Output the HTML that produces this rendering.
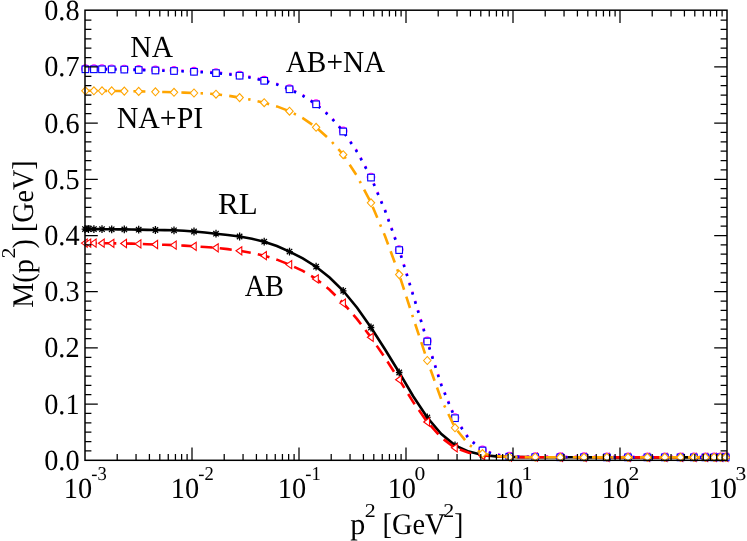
<!DOCTYPE html>
<html><head><meta charset="utf-8"><title>M(p2)</title>
<style>html,body{margin:0;padding:0;background:#fff;width:747px;height:541px;overflow:hidden;font-family:"Liberation Serif",serif}</style>
</head><body>
<svg width="747" height="541" viewBox="0 0 747 541" style="position:absolute;left:0;top:0">
<rect width="747" height="541" fill="#fff"/>
<path d="M85.0,229.10 L86.8,229.10 L88.5,229.11 L91.2,229.12 L93.9,229.13 L98.0,229.15 L102.0,229.18 L106.8,229.22 L111.7,229.27 L118.0,229.33 L124.3,229.40 L131.5,229.51 L138.7,229.65 L147.1,229.84 L155.4,230.00 L164.7,230.13 L174.0,230.30 L184.0,230.78 L194.0,231.50 L205.0,232.51 L216.0,233.70 L227.8,234.97 L239.6,236.50 L251.9,238.72 L264.2,241.70 L276.9,246.05 L289.5,251.60 L302.8,258.40 L316.1,266.73 L329.6,277.51 L343.2,290.79 L357.1,307.77 L371.0,327.46 L385.1,349.45 L399.2,372.54 L413.2,396.27 L427.3,417.53 L441.1,433.87 L455.0,445.35 L468.8,451.60 L482.5,455.09 L495.9,456.40 L509.3,457.00 L522.2,457.13 L535.2,457.22 L547.8,457.27 L560.3,457.30 L572.1,457.31 L584.0,457.33 L595.5,457.34 L606.9,457.35 L617.5,457.36 L628.0,457.37 L637.7,457.37 L647.4,457.38 L656.1,457.38 L664.8,457.39 L672.6,457.39 L680.5,457.39 L687.2,457.39 L693.9,457.40 L699.6,457.40 L705.4,457.40 L709.8,457.40 L714.1,457.40 L717.3,457.40 L720.5,457.40 L723.1,457.40 L725.7,457.40" fill="none" stroke="#000" stroke-width="2.6" stroke-linejoin="miter"/>
<path d="M81.7,229.1 H88.3 M85.0,225.2 V233.0 M82.3,226.4 L87.7,231.8 M82.3,231.8 L87.7,226.4" fill="none" stroke="#000" stroke-width="1.3"/>
<path d="M85.2,229.1 H91.8 M88.5,225.2 V233.0 M85.8,226.4 L91.2,231.8 M85.8,231.8 L91.2,226.4" fill="none" stroke="#000" stroke-width="1.3"/>
<path d="M90.6,229.1 H97.2 M93.9,225.2 V233.0 M91.2,226.4 L96.6,231.8 M91.2,231.8 L96.6,226.4" fill="none" stroke="#000" stroke-width="1.3"/>
<path d="M98.7,229.2 H105.3 M102.0,225.3 V233.1 M99.3,226.5 L104.7,231.9 M99.3,231.9 L104.7,226.5" fill="none" stroke="#000" stroke-width="1.3"/>
<path d="M108.4,229.3 H115.0 M111.7,225.4 V233.2 M109.0,226.6 L114.4,232.0 M109.0,232.0 L114.4,226.6" fill="none" stroke="#000" stroke-width="1.3"/>
<path d="M121.0,229.4 H127.6 M124.3,225.5 V233.3 M121.6,226.7 L127.0,232.1 M121.6,232.1 L127.0,226.7" fill="none" stroke="#000" stroke-width="1.3"/>
<path d="M135.4,229.7 H142.0 M138.7,225.8 V233.6 M136.0,227.0 L141.4,232.4 M136.0,232.4 L141.4,227.0" fill="none" stroke="#000" stroke-width="1.3"/>
<path d="M152.1,230.0 H158.7 M155.4,226.1 V233.9 M152.7,227.3 L158.1,232.7 M152.7,232.7 L158.1,227.3" fill="none" stroke="#000" stroke-width="1.3"/>
<path d="M170.7,230.3 H177.3 M174.0,226.4 V234.2 M171.3,227.6 L176.7,233.0 M171.3,233.0 L176.7,227.6" fill="none" stroke="#000" stroke-width="1.3"/>
<path d="M190.7,231.5 H197.3 M194.0,227.6 V235.4 M191.3,228.8 L196.7,234.2 M191.3,234.2 L196.7,228.8" fill="none" stroke="#000" stroke-width="1.3"/>
<path d="M212.7,233.7 H219.3 M216.0,229.8 V237.6 M213.3,231.0 L218.7,236.4 M213.3,236.4 L218.7,231.0" fill="none" stroke="#000" stroke-width="1.3"/>
<path d="M236.3,236.5 H242.9 M239.6,232.6 V240.4 M236.9,233.8 L242.3,239.2 M236.9,239.2 L242.3,233.8" fill="none" stroke="#000" stroke-width="1.3"/>
<path d="M260.9,241.7 H267.5 M264.2,237.8 V245.6 M261.5,239.0 L266.9,244.4 M261.5,244.4 L266.9,239.0" fill="none" stroke="#000" stroke-width="1.3"/>
<path d="M286.2,251.6 H292.8 M289.5,247.7 V255.5 M286.8,248.9 L292.2,254.3 M286.8,254.3 L292.2,248.9" fill="none" stroke="#000" stroke-width="1.3"/>
<path d="M312.8,266.7 H319.4 M316.1,262.8 V270.6 M313.4,264.0 L318.8,269.4 M313.4,269.4 L318.8,264.0" fill="none" stroke="#000" stroke-width="1.3"/>
<path d="M339.9,290.8 H346.5 M343.2,286.9 V294.7 M340.5,288.1 L345.9,293.5 M340.5,293.5 L345.9,288.1" fill="none" stroke="#000" stroke-width="1.3"/>
<path d="M367.7,327.5 H374.3 M371.0,323.6 V331.4 M368.3,324.8 L373.7,330.2 M368.3,330.2 L373.7,324.8" fill="none" stroke="#000" stroke-width="1.3"/>
<path d="M395.9,372.5 H402.5 M399.2,368.6 V376.4 M396.5,369.8 L401.9,375.2 M396.5,375.2 L401.9,369.8" fill="none" stroke="#000" stroke-width="1.3"/>
<path d="M424.0,417.5 H430.6 M427.3,413.6 V421.4 M424.6,414.8 L430.0,420.2 M424.6,420.2 L430.0,414.8" fill="none" stroke="#000" stroke-width="1.3"/>
<path d="M451.7,445.3 H458.3 M455.0,441.4 V449.2 M452.3,442.6 L457.7,448.0 M452.3,448.0 L457.7,442.6" fill="none" stroke="#000" stroke-width="1.3"/>
<path d="M479.2,455.1 H485.8 M482.5,451.2 V459.0 M479.8,452.4 L485.2,457.8 M479.8,457.8 L485.2,452.4" fill="none" stroke="#000" stroke-width="1.3"/>
<path d="M506.0,457.0 H512.6 M509.3,453.1 V460.9 M506.6,454.3 L512.0,459.7 M506.6,459.7 L512.0,454.3" fill="none" stroke="#000" stroke-width="1.3"/>
<path d="M531.9,457.2 H538.5 M535.2,453.3 V461.1 M532.5,454.5 L537.9,459.9 M532.5,459.9 L537.9,454.5" fill="none" stroke="#000" stroke-width="1.3"/>
<path d="M557.0,457.3 H563.6 M560.3,453.4 V461.2 M557.6,454.6 L563.0,460.0 M557.6,460.0 L563.0,454.6" fill="none" stroke="#000" stroke-width="1.3"/>
<path d="M580.7,457.3 H587.3 M584.0,453.4 V461.2 M581.3,454.6 L586.7,460.0 M581.3,460.0 L586.7,454.6" fill="none" stroke="#000" stroke-width="1.3"/>
<path d="M603.6,457.3 H610.2 M606.9,453.4 V461.2 M604.2,454.6 L609.6,460.0 M604.2,460.0 L609.6,454.6" fill="none" stroke="#000" stroke-width="1.3"/>
<path d="M624.7,457.4 H631.3 M628.0,453.5 V461.3 M625.3,454.7 L630.7,460.1 M625.3,460.1 L630.7,454.7" fill="none" stroke="#000" stroke-width="1.3"/>
<path d="M644.1,457.4 H650.7 M647.4,453.5 V461.3 M644.7,454.7 L650.1,460.1 M644.7,460.1 L650.1,454.7" fill="none" stroke="#000" stroke-width="1.3"/>
<path d="M661.5,457.4 H668.1 M664.8,453.5 V461.3 M662.1,454.7 L667.5,460.1 M662.1,460.1 L667.5,454.7" fill="none" stroke="#000" stroke-width="1.3"/>
<path d="M677.2,457.4 H683.8 M680.5,453.5 V461.3 M677.8,454.7 L683.2,460.1 M677.8,460.1 L683.2,454.7" fill="none" stroke="#000" stroke-width="1.3"/>
<path d="M690.6,457.4 H697.2 M693.9,453.5 V461.3 M691.2,454.7 L696.6,460.1 M691.2,460.1 L696.6,454.7" fill="none" stroke="#000" stroke-width="1.3"/>
<path d="M702.1,457.4 H708.7 M705.4,453.5 V461.3 M702.7,454.7 L708.1,460.1 M702.7,460.1 L708.1,454.7" fill="none" stroke="#000" stroke-width="1.3"/>
<path d="M710.8,457.4 H717.4 M714.1,453.5 V461.3 M711.4,454.7 L716.8,460.1 M711.4,460.1 L716.8,454.7" fill="none" stroke="#000" stroke-width="1.3"/>
<path d="M717.2,457.4 H723.8 M720.5,453.5 V461.3 M717.8,454.7 L723.2,460.1 M717.8,460.1 L723.2,454.7" fill="none" stroke="#000" stroke-width="1.3"/>
<path d="M722.4,457.4 H729.0 M725.7,453.5 V461.3 M723.0,454.7 L728.4,460.1 M723.0,460.1 L728.4,454.7" fill="none" stroke="#000" stroke-width="1.3"/>
<path d="M85.0,243.10 L86.8,243.10 L88.5,243.10 L91.2,243.11 L93.9,243.13 L98.0,243.16 L102.0,243.20 L106.8,243.25 L111.7,243.31 L118.0,243.41 L124.3,243.50 L131.5,243.67 L138.7,243.90 L147.1,244.21 L155.4,244.50 L164.7,244.78 L174.0,245.10 L184.0,245.65 L194.0,246.30 L205.0,246.98 L216.0,247.80 L227.8,249.10 L239.6,250.80 L251.9,252.97 L264.2,255.75 L276.9,259.64 L289.5,264.60 L302.8,270.93 L316.1,278.90 L329.6,289.77 L343.2,303.10 L357.1,319.12 L371.0,337.34 L385.1,357.97 L399.2,379.65 L413.2,402.07 L427.3,422.00 L441.1,437.46 L455.0,447.84 L468.8,452.78 L482.5,455.47 L495.9,456.51 L509.3,457.00 L522.2,457.13 L535.2,457.22 L547.8,457.27 L560.3,457.30 L572.1,457.31 L584.0,457.33 L595.5,457.34 L606.9,457.35 L617.5,457.36 L628.0,457.37 L637.7,457.37 L647.4,457.38 L656.1,457.38 L664.8,457.39 L672.6,457.39 L680.5,457.39 L687.2,457.39 L693.9,457.40 L699.6,457.40 L705.4,457.40 L709.8,457.40 L714.1,457.40 L717.3,457.40 L720.5,457.40 L723.1,457.40 L725.7,457.40" fill="none" stroke="#f00" stroke-width="2.6" stroke-linejoin="miter" stroke-dasharray="12.05 7.22"/>
<path d="M81.4,243.1 L87.2,239.0 L87.2,247.2 Z" fill="#fff" stroke="#f00" stroke-width="1.1"/>
<path d="M84.9,243.1 L90.7,239.0 L90.7,247.2 Z" fill="#fff" stroke="#f00" stroke-width="1.1"/>
<path d="M90.3,243.1 L96.1,239.0 L96.1,247.2 Z" fill="#fff" stroke="#f00" stroke-width="1.1"/>
<path d="M98.4,243.2 L104.2,239.1 L104.2,247.3 Z" fill="#fff" stroke="#f00" stroke-width="1.1"/>
<path d="M108.1,243.3 L113.9,239.2 L113.9,247.4 Z" fill="#fff" stroke="#f00" stroke-width="1.1"/>
<path d="M120.7,243.5 L126.5,239.4 L126.5,247.6 Z" fill="#fff" stroke="#f00" stroke-width="1.1"/>
<path d="M135.1,243.9 L140.9,239.8 L140.9,248.0 Z" fill="#fff" stroke="#f00" stroke-width="1.1"/>
<path d="M151.8,244.5 L157.6,240.4 L157.6,248.6 Z" fill="#fff" stroke="#f00" stroke-width="1.1"/>
<path d="M170.4,245.1 L176.2,241.0 L176.2,249.2 Z" fill="#fff" stroke="#f00" stroke-width="1.1"/>
<path d="M190.4,246.3 L196.2,242.2 L196.2,250.4 Z" fill="#fff" stroke="#f00" stroke-width="1.1"/>
<path d="M212.4,247.8 L218.2,243.7 L218.2,251.9 Z" fill="#fff" stroke="#f00" stroke-width="1.1"/>
<path d="M236.0,250.8 L241.8,246.7 L241.8,254.9 Z" fill="#fff" stroke="#f00" stroke-width="1.1"/>
<path d="M260.6,255.7 L266.4,251.6 L266.4,259.8 Z" fill="#fff" stroke="#f00" stroke-width="1.1"/>
<path d="M285.9,264.6 L291.7,260.5 L291.7,268.7 Z" fill="#fff" stroke="#f00" stroke-width="1.1"/>
<path d="M312.5,278.9 L318.3,274.8 L318.3,283.0 Z" fill="#fff" stroke="#f00" stroke-width="1.1"/>
<path d="M339.6,303.1 L345.4,299.0 L345.4,307.2 Z" fill="#fff" stroke="#f00" stroke-width="1.1"/>
<path d="M367.4,337.3 L373.2,333.2 L373.2,341.4 Z" fill="#fff" stroke="#f00" stroke-width="1.1"/>
<path d="M395.6,379.7 L401.4,375.6 L401.4,383.8 Z" fill="#fff" stroke="#f00" stroke-width="1.1"/>
<path d="M423.7,422.0 L429.5,417.9 L429.5,426.1 Z" fill="#fff" stroke="#f00" stroke-width="1.1"/>
<path d="M451.4,447.8 L457.2,443.7 L457.2,451.9 Z" fill="#fff" stroke="#f00" stroke-width="1.1"/>
<path d="M478.9,455.5 L484.7,451.4 L484.7,459.6 Z" fill="#fff" stroke="#f00" stroke-width="1.1"/>
<path d="M505.7,457.0 L511.5,452.9 L511.5,461.1 Z" fill="#fff" stroke="#f00" stroke-width="1.1"/>
<path d="M531.6,457.2 L537.4,453.1 L537.4,461.3 Z" fill="#fff" stroke="#f00" stroke-width="1.1"/>
<path d="M556.7,457.3 L562.5,453.2 L562.5,461.4 Z" fill="#fff" stroke="#f00" stroke-width="1.1"/>
<path d="M580.4,457.3 L586.2,453.2 L586.2,461.4 Z" fill="#fff" stroke="#f00" stroke-width="1.1"/>
<path d="M603.3,457.3 L609.1,453.2 L609.1,461.4 Z" fill="#fff" stroke="#f00" stroke-width="1.1"/>
<path d="M624.4,457.4 L630.2,453.3 L630.2,461.5 Z" fill="#fff" stroke="#f00" stroke-width="1.1"/>
<path d="M643.8,457.4 L649.6,453.3 L649.6,461.5 Z" fill="#fff" stroke="#f00" stroke-width="1.1"/>
<path d="M661.2,457.4 L667.0,453.3 L667.0,461.5 Z" fill="#fff" stroke="#f00" stroke-width="1.1"/>
<path d="M676.9,457.4 L682.7,453.3 L682.7,461.5 Z" fill="#fff" stroke="#f00" stroke-width="1.1"/>
<path d="M690.3,457.4 L696.1,453.3 L696.1,461.5 Z" fill="#fff" stroke="#f00" stroke-width="1.1"/>
<path d="M701.8,457.4 L707.6,453.3 L707.6,461.5 Z" fill="#fff" stroke="#f00" stroke-width="1.1"/>
<path d="M710.5,457.4 L716.3,453.3 L716.3,461.5 Z" fill="#fff" stroke="#f00" stroke-width="1.1"/>
<path d="M716.9,457.4 L722.7,453.3 L722.7,461.5 Z" fill="#fff" stroke="#f00" stroke-width="1.1"/>
<path d="M722.1,457.4 L727.9,453.3 L727.9,461.5 Z" fill="#fff" stroke="#f00" stroke-width="1.1"/>
<path d="M85.4,68.70 L89.7,68.70 L93.9,68.71 L98.0,68.73 L102.0,68.74 L106.8,68.77 L111.7,68.80 L118.0,68.88 L124.3,69.00 L131.5,69.18 L138.7,69.40 L147.1,69.65 L155.4,69.90 L164.7,70.14 L174.0,70.40 L184.0,70.76 L194.0,71.20 L205.0,71.77 L216.0,72.49 L227.8,73.60 L239.6,75.10 L251.9,77.29 L264.2,80.18 L276.9,83.92 L289.5,88.70 L302.8,95.22 L316.1,103.74 L329.6,115.57 L343.2,130.92 L357.1,151.31 L371.0,177.00 L385.1,210.24 L399.2,249.45 L413.2,294.88 L427.3,340.90 L441.1,384.04 L455.0,417.63 L468.8,438.23 L482.5,449.92 L495.9,454.21 L509.3,456.10 L522.2,456.37 L535.2,456.55 L547.8,456.66 L560.3,456.70 L572.1,456.72 L584.0,456.73 L595.5,456.74 L606.9,456.75 L617.5,456.76 L628.0,456.77 L637.7,456.77 L647.4,456.78 L656.1,456.78 L664.8,456.79 L672.6,456.79 L680.5,456.79 L687.2,456.80 L693.9,456.80 L699.6,456.80 L705.4,456.80 L709.8,456.80 L714.1,456.80 L717.3,456.80 L720.5,456.80 L723.1,456.80 L725.7,456.80" fill="none" stroke="#f0f" stroke-width="2.6" stroke-linejoin="miter" stroke-dasharray="2.4 7.2"/>
<circle cx="85.4" cy="68.7" r="3.8" fill="#fff" stroke="#f0f" stroke-width="1.1"/>
<circle cx="93.9" cy="68.7" r="3.8" fill="#fff" stroke="#f0f" stroke-width="1.1"/>
<circle cx="102.0" cy="68.7" r="3.8" fill="#fff" stroke="#f0f" stroke-width="1.1"/>
<circle cx="111.7" cy="68.8" r="3.8" fill="#fff" stroke="#f0f" stroke-width="1.1"/>
<circle cx="124.3" cy="69.0" r="3.8" fill="#fff" stroke="#f0f" stroke-width="1.1"/>
<circle cx="138.7" cy="69.4" r="3.8" fill="#fff" stroke="#f0f" stroke-width="1.1"/>
<circle cx="155.4" cy="69.9" r="3.8" fill="#fff" stroke="#f0f" stroke-width="1.1"/>
<circle cx="174.0" cy="70.4" r="3.8" fill="#fff" stroke="#f0f" stroke-width="1.1"/>
<circle cx="194.0" cy="71.2" r="3.8" fill="#fff" stroke="#f0f" stroke-width="1.1"/>
<circle cx="216.0" cy="72.5" r="3.8" fill="#fff" stroke="#f0f" stroke-width="1.1"/>
<circle cx="239.6" cy="75.1" r="3.8" fill="#fff" stroke="#f0f" stroke-width="1.1"/>
<circle cx="264.2" cy="80.2" r="3.8" fill="#fff" stroke="#f0f" stroke-width="1.1"/>
<circle cx="289.5" cy="88.7" r="3.8" fill="#fff" stroke="#f0f" stroke-width="1.1"/>
<circle cx="316.1" cy="103.7" r="3.8" fill="#fff" stroke="#f0f" stroke-width="1.1"/>
<circle cx="343.2" cy="130.9" r="3.8" fill="#fff" stroke="#f0f" stroke-width="1.1"/>
<circle cx="371.0" cy="177.0" r="3.8" fill="#fff" stroke="#f0f" stroke-width="1.1"/>
<circle cx="399.2" cy="249.5" r="3.8" fill="#fff" stroke="#f0f" stroke-width="1.1"/>
<circle cx="427.3" cy="340.9" r="3.8" fill="#fff" stroke="#f0f" stroke-width="1.1"/>
<circle cx="455.0" cy="417.6" r="3.8" fill="#fff" stroke="#f0f" stroke-width="1.1"/>
<circle cx="482.5" cy="449.9" r="3.8" fill="#fff" stroke="#f0f" stroke-width="1.1"/>
<circle cx="509.3" cy="456.1" r="3.8" fill="#fff" stroke="#f0f" stroke-width="1.1"/>
<circle cx="535.2" cy="456.6" r="3.8" fill="#fff" stroke="#f0f" stroke-width="1.1"/>
<circle cx="560.3" cy="456.7" r="3.8" fill="#fff" stroke="#f0f" stroke-width="1.1"/>
<circle cx="584.0" cy="456.7" r="3.8" fill="#fff" stroke="#f0f" stroke-width="1.1"/>
<circle cx="606.9" cy="456.8" r="3.8" fill="#fff" stroke="#f0f" stroke-width="1.1"/>
<circle cx="628.0" cy="456.8" r="3.8" fill="#fff" stroke="#f0f" stroke-width="1.1"/>
<circle cx="647.4" cy="456.8" r="3.8" fill="#fff" stroke="#f0f" stroke-width="1.1"/>
<circle cx="664.8" cy="456.8" r="3.8" fill="#fff" stroke="#f0f" stroke-width="1.1"/>
<circle cx="680.5" cy="456.8" r="3.8" fill="#fff" stroke="#f0f" stroke-width="1.1"/>
<circle cx="693.9" cy="456.8" r="3.8" fill="#fff" stroke="#f0f" stroke-width="1.1"/>
<circle cx="705.4" cy="456.8" r="3.8" fill="#fff" stroke="#f0f" stroke-width="1.1"/>
<circle cx="714.1" cy="456.8" r="3.8" fill="#fff" stroke="#f0f" stroke-width="1.1"/>
<circle cx="720.5" cy="456.8" r="3.8" fill="#fff" stroke="#f0f" stroke-width="1.1"/>
<circle cx="725.7" cy="456.8" r="3.8" fill="#fff" stroke="#f0f" stroke-width="1.1"/>
<path d="M85.4,69.30 L89.7,69.30 L93.9,69.31 L98.0,69.33 L102.0,69.34 L106.8,69.37 L111.7,69.40 L118.0,69.48 L124.3,69.60 L131.5,69.78 L138.7,70.00 L147.1,70.25 L155.4,70.50 L164.7,70.74 L174.0,71.00 L184.0,71.36 L194.0,71.80 L205.0,72.37 L216.0,73.09 L227.8,74.20 L239.6,75.70 L251.9,77.89 L264.2,80.78 L276.9,84.52 L289.5,89.30 L302.8,95.82 L316.1,104.34 L329.6,116.17 L343.2,131.52 L357.1,151.91 L371.0,177.60 L385.1,210.84 L399.2,250.05 L413.2,295.48 L427.3,341.50 L441.1,384.64 L455.0,418.23 L468.8,438.83 L482.5,450.52 L495.9,454.81 L509.3,456.70 L522.2,456.97 L535.2,457.15 L547.8,457.26 L560.3,457.30 L572.1,457.32 L584.0,457.33 L595.5,457.34 L606.9,457.35 L617.5,457.36 L628.0,457.37 L637.7,457.37 L647.4,457.38 L656.1,457.38 L664.8,457.39 L672.6,457.39 L680.5,457.39 L687.2,457.40 L693.9,457.40 L699.6,457.40 L705.4,457.40 L709.8,457.40 L714.1,457.40 L717.3,457.40 L720.5,457.40 L723.1,457.40 L725.7,457.40" fill="none" stroke="#00f" stroke-width="2.6" stroke-linejoin="miter" stroke-dasharray="2.4 7.2"/>
<rect x="82.1" y="66.0" width="6.6" height="6.6" fill="#fff" stroke="#00f" stroke-width="1.1"/>
<rect x="90.6" y="66.0" width="6.6" height="6.6" fill="#fff" stroke="#00f" stroke-width="1.1"/>
<rect x="98.7" y="66.0" width="6.6" height="6.6" fill="#fff" stroke="#00f" stroke-width="1.1"/>
<rect x="108.4" y="66.1" width="6.6" height="6.6" fill="#fff" stroke="#00f" stroke-width="1.1"/>
<rect x="121.0" y="66.3" width="6.6" height="6.6" fill="#fff" stroke="#00f" stroke-width="1.1"/>
<rect x="135.4" y="66.7" width="6.6" height="6.6" fill="#fff" stroke="#00f" stroke-width="1.1"/>
<rect x="152.1" y="67.2" width="6.6" height="6.6" fill="#fff" stroke="#00f" stroke-width="1.1"/>
<rect x="170.7" y="67.7" width="6.6" height="6.6" fill="#fff" stroke="#00f" stroke-width="1.1"/>
<rect x="190.7" y="68.5" width="6.6" height="6.6" fill="#fff" stroke="#00f" stroke-width="1.1"/>
<rect x="212.7" y="69.8" width="6.6" height="6.6" fill="#fff" stroke="#00f" stroke-width="1.1"/>
<rect x="236.3" y="72.4" width="6.6" height="6.6" fill="#fff" stroke="#00f" stroke-width="1.1"/>
<rect x="260.9" y="77.5" width="6.6" height="6.6" fill="#fff" stroke="#00f" stroke-width="1.1"/>
<rect x="286.2" y="86.0" width="6.6" height="6.6" fill="#fff" stroke="#00f" stroke-width="1.1"/>
<rect x="312.8" y="101.0" width="6.6" height="6.6" fill="#fff" stroke="#00f" stroke-width="1.1"/>
<rect x="339.9" y="128.2" width="6.6" height="6.6" fill="#fff" stroke="#00f" stroke-width="1.1"/>
<rect x="367.7" y="174.3" width="6.6" height="6.6" fill="#fff" stroke="#00f" stroke-width="1.1"/>
<rect x="395.9" y="246.8" width="6.6" height="6.6" fill="#fff" stroke="#00f" stroke-width="1.1"/>
<rect x="424.0" y="338.2" width="6.6" height="6.6" fill="#fff" stroke="#00f" stroke-width="1.1"/>
<rect x="451.7" y="414.9" width="6.6" height="6.6" fill="#fff" stroke="#00f" stroke-width="1.1"/>
<rect x="479.2" y="447.2" width="6.6" height="6.6" fill="#fff" stroke="#00f" stroke-width="1.1"/>
<rect x="506.0" y="453.4" width="6.6" height="6.6" fill="#fff" stroke="#00f" stroke-width="1.1"/>
<rect x="531.9" y="453.9" width="6.6" height="6.6" fill="#fff" stroke="#00f" stroke-width="1.1"/>
<rect x="557.0" y="454.0" width="6.6" height="6.6" fill="#fff" stroke="#00f" stroke-width="1.1"/>
<rect x="580.7" y="454.0" width="6.6" height="6.6" fill="#fff" stroke="#00f" stroke-width="1.1"/>
<rect x="603.6" y="454.1" width="6.6" height="6.6" fill="#fff" stroke="#00f" stroke-width="1.1"/>
<rect x="624.7" y="454.1" width="6.6" height="6.6" fill="#fff" stroke="#00f" stroke-width="1.1"/>
<rect x="644.1" y="454.1" width="6.6" height="6.6" fill="#fff" stroke="#00f" stroke-width="1.1"/>
<rect x="661.5" y="454.1" width="6.6" height="6.6" fill="#fff" stroke="#00f" stroke-width="1.1"/>
<rect x="677.2" y="454.1" width="6.6" height="6.6" fill="#fff" stroke="#00f" stroke-width="1.1"/>
<rect x="690.6" y="454.1" width="6.6" height="6.6" fill="#fff" stroke="#00f" stroke-width="1.1"/>
<rect x="702.1" y="454.1" width="6.6" height="6.6" fill="#fff" stroke="#00f" stroke-width="1.1"/>
<rect x="710.8" y="454.1" width="6.6" height="6.6" fill="#fff" stroke="#00f" stroke-width="1.1"/>
<rect x="717.2" y="454.1" width="6.6" height="6.6" fill="#fff" stroke="#00f" stroke-width="1.1"/>
<rect x="722.4" y="454.1" width="6.6" height="6.6" fill="#fff" stroke="#00f" stroke-width="1.1"/>
<path d="M85.4,90.80 L89.7,90.80 L93.9,90.81 L98.0,90.83 L102.0,90.84 L106.8,90.87 L111.7,90.90 L118.0,90.98 L124.3,91.10 L131.5,91.24 L138.7,91.40 L147.1,91.59 L155.4,91.80 L164.7,92.04 L174.0,92.30 L184.0,92.62 L194.0,93.00 L205.0,93.50 L216.0,94.19 L227.8,95.62 L239.6,97.60 L251.9,99.87 L264.2,102.68 L276.9,106.39 L289.5,111.21 L302.8,118.17 L316.1,127.30 L329.6,139.26 L343.2,154.73 L357.1,176.06 L371.0,202.81 L385.1,236.21 L399.2,274.61 L413.2,317.94 L427.3,360.52 L441.1,398.94 L455.0,427.77 L468.8,444.65 L482.5,453.57 L495.9,455.99 L509.3,457.00 L522.2,457.13 L535.2,457.22 L547.8,457.27 L560.3,457.30 L572.1,457.31 L584.0,457.33 L595.5,457.34 L606.9,457.35 L617.5,457.36 L628.0,457.37 L637.7,457.37 L647.4,457.38 L656.1,457.38 L664.8,457.39 L672.6,457.39 L680.5,457.39 L687.2,457.39 L693.9,457.40 L699.6,457.40 L705.4,457.40 L709.8,457.40 L714.1,457.40 L717.3,457.40 L720.5,457.40 L723.1,457.40 L725.7,457.40" fill="none" stroke="#ffa500" stroke-width="2.6" stroke-linejoin="miter" stroke-dasharray="12 7.2 2.4 7.2 12 7.2"/>
<path d="M81.7,90.8 L85.4,86.8 L89.1,90.8 L85.4,94.8 Z" fill="#fff" stroke="#ffa500" stroke-width="1.1"/>
<path d="M90.2,90.8 L93.9,86.8 L97.6,90.8 L93.9,94.8 Z" fill="#fff" stroke="#ffa500" stroke-width="1.1"/>
<path d="M98.3,90.8 L102.0,86.8 L105.7,90.8 L102.0,94.8 Z" fill="#fff" stroke="#ffa500" stroke-width="1.1"/>
<path d="M108.0,90.9 L111.7,86.9 L115.4,90.9 L111.7,94.9 Z" fill="#fff" stroke="#ffa500" stroke-width="1.1"/>
<path d="M120.6,91.1 L124.3,87.1 L128.0,91.1 L124.3,95.1 Z" fill="#fff" stroke="#ffa500" stroke-width="1.1"/>
<path d="M135.0,91.4 L138.7,87.4 L142.4,91.4 L138.7,95.4 Z" fill="#fff" stroke="#ffa500" stroke-width="1.1"/>
<path d="M151.7,91.8 L155.4,87.8 L159.1,91.8 L155.4,95.8 Z" fill="#fff" stroke="#ffa500" stroke-width="1.1"/>
<path d="M170.3,92.3 L174.0,88.3 L177.7,92.3 L174.0,96.3 Z" fill="#fff" stroke="#ffa500" stroke-width="1.1"/>
<path d="M190.3,93.0 L194.0,89.0 L197.7,93.0 L194.0,97.0 Z" fill="#fff" stroke="#ffa500" stroke-width="1.1"/>
<path d="M212.3,94.2 L216.0,90.2 L219.7,94.2 L216.0,98.2 Z" fill="#fff" stroke="#ffa500" stroke-width="1.1"/>
<path d="M235.9,97.6 L239.6,93.6 L243.3,97.6 L239.6,101.6 Z" fill="#fff" stroke="#ffa500" stroke-width="1.1"/>
<path d="M260.5,102.7 L264.2,98.7 L267.9,102.7 L264.2,106.7 Z" fill="#fff" stroke="#ffa500" stroke-width="1.1"/>
<path d="M285.8,111.2 L289.5,107.2 L293.2,111.2 L289.5,115.2 Z" fill="#fff" stroke="#ffa500" stroke-width="1.1"/>
<path d="M312.4,127.3 L316.1,123.3 L319.8,127.3 L316.1,131.3 Z" fill="#fff" stroke="#ffa500" stroke-width="1.1"/>
<path d="M339.5,154.7 L343.2,150.7 L346.9,154.7 L343.2,158.7 Z" fill="#fff" stroke="#ffa500" stroke-width="1.1"/>
<path d="M367.3,202.8 L371.0,198.8 L374.7,202.8 L371.0,206.8 Z" fill="#fff" stroke="#ffa500" stroke-width="1.1"/>
<path d="M395.5,274.6 L399.2,270.6 L402.9,274.6 L399.2,278.6 Z" fill="#fff" stroke="#ffa500" stroke-width="1.1"/>
<path d="M423.6,360.5 L427.3,356.5 L431.0,360.5 L427.3,364.5 Z" fill="#fff" stroke="#ffa500" stroke-width="1.1"/>
<path d="M451.3,427.8 L455.0,423.8 L458.7,427.8 L455.0,431.8 Z" fill="#fff" stroke="#ffa500" stroke-width="1.1"/>
<path d="M478.8,453.6 L482.5,449.6 L486.2,453.6 L482.5,457.6 Z" fill="#fff" stroke="#ffa500" stroke-width="1.1"/>
<path d="M505.6,457.0 L509.3,453.0 L513.0,457.0 L509.3,461.0 Z" fill="#fff" stroke="#ffa500" stroke-width="1.1"/>
<path d="M531.5,457.2 L535.2,453.2 L538.9,457.2 L535.2,461.2 Z" fill="#fff" stroke="#ffa500" stroke-width="1.1"/>
<path d="M556.6,457.3 L560.3,453.3 L564.0,457.3 L560.3,461.3 Z" fill="#fff" stroke="#ffa500" stroke-width="1.1"/>
<path d="M580.3,457.3 L584.0,453.3 L587.7,457.3 L584.0,461.3 Z" fill="#fff" stroke="#ffa500" stroke-width="1.1"/>
<path d="M603.2,457.3 L606.9,453.3 L610.6,457.3 L606.9,461.3 Z" fill="#fff" stroke="#ffa500" stroke-width="1.1"/>
<path d="M624.3,457.4 L628.0,453.4 L631.7,457.4 L628.0,461.4 Z" fill="#fff" stroke="#ffa500" stroke-width="1.1"/>
<path d="M643.7,457.4 L647.4,453.4 L651.1,457.4 L647.4,461.4 Z" fill="#fff" stroke="#ffa500" stroke-width="1.1"/>
<path d="M661.1,457.4 L664.8,453.4 L668.5,457.4 L664.8,461.4 Z" fill="#fff" stroke="#ffa500" stroke-width="1.1"/>
<path d="M676.8,457.4 L680.5,453.4 L684.2,457.4 L680.5,461.4 Z" fill="#fff" stroke="#ffa500" stroke-width="1.1"/>
<path d="M690.2,457.4 L693.9,453.4 L697.6,457.4 L693.9,461.4 Z" fill="#fff" stroke="#ffa500" stroke-width="1.1"/>
<path d="M701.7,457.4 L705.4,453.4 L709.1,457.4 L705.4,461.4 Z" fill="#fff" stroke="#ffa500" stroke-width="1.1"/>
<path d="M710.4,457.4 L714.1,453.4 L717.8,457.4 L714.1,461.4 Z" fill="#fff" stroke="#ffa500" stroke-width="1.1"/>
<path d="M716.8,457.4 L720.5,453.4 L724.2,457.4 L720.5,461.4 Z" fill="#fff" stroke="#ffa500" stroke-width="1.1"/>
<path d="M722.0,457.4 L725.7,453.4 L729.4,457.4 L725.7,461.4 Z" fill="#fff" stroke="#ffa500" stroke-width="1.1"/>
<rect x="85.0" y="10.2" width="642.0" height="450.1" fill="none" stroke="#000" stroke-width="1.5"/>
<path d="M117.21,460.3 v-6.4 M117.21,10.2 v6.4 M136.05,460.3 v-6.4 M136.05,10.2 v6.4 M149.42,460.3 v-6.4 M149.42,10.2 v6.4 M159.79,460.3 v-6.4 M159.79,10.2 v6.4 M168.26,460.3 v-6.4 M168.26,10.2 v6.4 M175.43,460.3 v-6.4 M175.43,10.2 v6.4 M181.63,460.3 v-6.4 M181.63,10.2 v6.4 M187.10,460.3 v-6.4 M187.10,10.2 v6.4 M192.00,460.3 v-12.8 M192.00,10.2 v12.8 M224.21,460.3 v-6.4 M224.21,10.2 v6.4 M243.05,460.3 v-6.4 M243.05,10.2 v6.4 M256.42,460.3 v-6.4 M256.42,10.2 v6.4 M266.79,460.3 v-6.4 M266.79,10.2 v6.4 M275.26,460.3 v-6.4 M275.26,10.2 v6.4 M282.43,460.3 v-6.4 M282.43,10.2 v6.4 M288.63,460.3 v-6.4 M288.63,10.2 v6.4 M294.10,460.3 v-6.4 M294.10,10.2 v6.4 M299.00,460.3 v-12.8 M299.00,10.2 v12.8 M331.21,460.3 v-6.4 M331.21,10.2 v6.4 M350.05,460.3 v-6.4 M350.05,10.2 v6.4 M363.42,460.3 v-6.4 M363.42,10.2 v6.4 M373.79,460.3 v-6.4 M373.79,10.2 v6.4 M382.26,460.3 v-6.4 M382.26,10.2 v6.4 M389.43,460.3 v-6.4 M389.43,10.2 v6.4 M395.63,460.3 v-6.4 M395.63,10.2 v6.4 M401.10,460.3 v-6.4 M401.10,10.2 v6.4 M406.00,460.3 v-12.8 M406.00,10.2 v12.8 M438.21,460.3 v-6.4 M438.21,10.2 v6.4 M457.05,460.3 v-6.4 M457.05,10.2 v6.4 M470.42,460.3 v-6.4 M470.42,10.2 v6.4 M480.79,460.3 v-6.4 M480.79,10.2 v6.4 M489.26,460.3 v-6.4 M489.26,10.2 v6.4 M496.43,460.3 v-6.4 M496.43,10.2 v6.4 M502.63,460.3 v-6.4 M502.63,10.2 v6.4 M508.10,460.3 v-6.4 M508.10,10.2 v6.4 M513.00,460.3 v-12.8 M513.00,10.2 v12.8 M545.21,460.3 v-6.4 M545.21,10.2 v6.4 M564.05,460.3 v-6.4 M564.05,10.2 v6.4 M577.42,460.3 v-6.4 M577.42,10.2 v6.4 M587.79,460.3 v-6.4 M587.79,10.2 v6.4 M596.26,460.3 v-6.4 M596.26,10.2 v6.4 M603.43,460.3 v-6.4 M603.43,10.2 v6.4 M609.63,460.3 v-6.4 M609.63,10.2 v6.4 M615.10,460.3 v-6.4 M615.10,10.2 v6.4 M620.00,460.3 v-12.8 M620.00,10.2 v12.8 M652.21,460.3 v-6.4 M652.21,10.2 v6.4 M671.05,460.3 v-6.4 M671.05,10.2 v6.4 M684.42,460.3 v-6.4 M684.42,10.2 v6.4 M694.79,460.3 v-6.4 M694.79,10.2 v6.4 M703.26,460.3 v-6.4 M703.26,10.2 v6.4 M710.43,460.3 v-6.4 M710.43,10.2 v6.4 M716.63,460.3 v-6.4 M716.63,10.2 v6.4 M722.10,460.3 v-6.4 M722.10,10.2 v6.4 M85.0,450.93 h6.4 M727.0,450.93 h-6.4 M85.0,441.57 h6.4 M727.0,441.57 h-6.4 M85.0,432.20 h6.4 M727.0,432.20 h-6.4 M85.0,422.83 h6.4 M727.0,422.83 h-6.4 M85.0,413.47 h6.4 M727.0,413.47 h-6.4 M85.0,404.10 h12.8 M727.0,404.10 h-12.8 M85.0,394.73 h6.4 M727.0,394.73 h-6.4 M85.0,385.37 h6.4 M727.0,385.37 h-6.4 M85.0,376.00 h6.4 M727.0,376.00 h-6.4 M85.0,366.63 h6.4 M727.0,366.63 h-6.4 M85.0,357.27 h6.4 M727.0,357.27 h-6.4 M85.0,347.90 h12.8 M727.0,347.90 h-12.8 M85.0,338.53 h6.4 M727.0,338.53 h-6.4 M85.0,329.17 h6.4 M727.0,329.17 h-6.4 M85.0,319.80 h6.4 M727.0,319.80 h-6.4 M85.0,310.43 h6.4 M727.0,310.43 h-6.4 M85.0,301.07 h6.4 M727.0,301.07 h-6.4 M85.0,291.70 h12.8 M727.0,291.70 h-12.8 M85.0,282.33 h6.4 M727.0,282.33 h-6.4 M85.0,272.97 h6.4 M727.0,272.97 h-6.4 M85.0,263.60 h6.4 M727.0,263.60 h-6.4 M85.0,254.23 h6.4 M727.0,254.23 h-6.4 M85.0,244.87 h6.4 M727.0,244.87 h-6.4 M85.0,235.50 h12.8 M727.0,235.50 h-12.8 M85.0,226.13 h6.4 M727.0,226.13 h-6.4 M85.0,216.77 h6.4 M727.0,216.77 h-6.4 M85.0,207.40 h6.4 M727.0,207.40 h-6.4 M85.0,198.03 h6.4 M727.0,198.03 h-6.4 M85.0,188.67 h6.4 M727.0,188.67 h-6.4 M85.0,179.30 h12.8 M727.0,179.30 h-12.8 M85.0,169.93 h6.4 M727.0,169.93 h-6.4 M85.0,160.57 h6.4 M727.0,160.57 h-6.4 M85.0,151.20 h6.4 M727.0,151.20 h-6.4 M85.0,141.83 h6.4 M727.0,141.83 h-6.4 M85.0,132.47 h6.4 M727.0,132.47 h-6.4 M85.0,123.10 h12.8 M727.0,123.10 h-12.8 M85.0,113.73 h6.4 M727.0,113.73 h-6.4 M85.0,104.37 h6.4 M727.0,104.37 h-6.4 M85.0,95.00 h6.4 M727.0,95.00 h-6.4 M85.0,85.63 h6.4 M727.0,85.63 h-6.4 M85.0,76.27 h6.4 M727.0,76.27 h-6.4 M85.0,66.90 h12.8 M727.0,66.90 h-12.8 M85.0,57.53 h6.4 M727.0,57.53 h-6.4 M85.0,48.17 h6.4 M727.0,48.17 h-6.4 M85.0,38.80 h6.4 M727.0,38.80 h-6.4 M85.0,29.43 h6.4 M727.0,29.43 h-6.4 M85.0,20.07 h6.4 M727.0,20.07 h-6.4" stroke="#000" stroke-width="1.25" fill="none"/>
<g font-family="'Liberation Serif', serif" fill="#000" style="text-rendering:geometricPrecision;will-change:transform">
<text transform="translate(44.21,469.75) scale(0.9693,1)" font-size="29.2">0.0</text>
<text transform="translate(44.21,413.55) scale(0.9693,1)" font-size="29.2">0.1</text>
<text transform="translate(44.21,357.35) scale(0.9693,1)" font-size="29.2">0.2</text>
<text transform="translate(44.21,301.15) scale(0.9693,1)" font-size="29.2">0.3</text>
<text transform="translate(44.21,244.95) scale(0.9693,1)" font-size="29.2">0.4</text>
<text transform="translate(44.21,188.75) scale(0.9693,1)" font-size="29.2">0.5</text>
<text transform="translate(44.21,132.55) scale(0.9693,1)" font-size="29.2">0.6</text>
<text transform="translate(44.21,76.35) scale(0.9693,1)" font-size="29.2">0.7</text>
<text transform="translate(44.21,20.15) scale(0.9693,1)" font-size="29.2">0.8</text>
<text transform="translate(63.77,497.50) scale(0.9717,1)" font-size="29.2">10</text>
<text transform="translate(91.29,480.20) scale(0.9479,1)" font-size="19.6">-3</text>
<text transform="translate(170.77,497.50) scale(0.9717,1)" font-size="29.2">10</text>
<text transform="translate(198.29,480.20) scale(0.9479,1)" font-size="19.6">-2</text>
<text transform="translate(277.77,497.50) scale(0.9717,1)" font-size="29.2">10</text>
<text transform="translate(305.29,480.20) scale(0.9479,1)" font-size="19.6">-1</text>
<text transform="translate(387.67,497.50) scale(0.9717,1)" font-size="29.2">10</text>
<text transform="translate(414.57,480.20) scale(1.1030,1)" font-size="19.6">0</text>
<text transform="translate(494.67,497.50) scale(0.9717,1)" font-size="29.2">10</text>
<text transform="translate(521.57,480.20) scale(1.1030,1)" font-size="19.6">1</text>
<text transform="translate(601.67,497.50) scale(0.9717,1)" font-size="29.2">10</text>
<text transform="translate(628.57,480.20) scale(1.1030,1)" font-size="19.6">2</text>
<text transform="translate(708.67,497.50) scale(0.9717,1)" font-size="29.2">10</text>
<text transform="translate(735.57,480.20) scale(1.1030,1)" font-size="19.6">3</text>
<text transform="translate(350.30,534.30) scale(1.0019,1)" font-size="30.0">p</text>
<text transform="translate(364.76,517.00) scale(1.1200,1)" font-size="19.6">2</text>
<text transform="translate(382.47,534.30) scale(0.9453,1)" font-size="30.0">[GeV</text>
<text transform="translate(443.31,517.00) scale(1.1200,1)" font-size="19.6">2</text>
<text transform="translate(454.28,534.30) scale(0.9057,1)" font-size="30.0">]</text>
<text transform="translate(32.50,307.72) rotate(-90) scale(0.9390,1)" font-size="30.0">M(p</text>
<text transform="translate(15.20,258.44) rotate(-90) scale(1.1200,1)" font-size="19.6">2</text>
<text transform="translate(32.50,248.43) rotate(-90) scale(0.9354,1)" font-size="30.0">) [GeV]</text>
<text transform="translate(130.35,56.70) scale(0.9698,1)" font-size="30.5">NA</text>
<text transform="translate(285.66,72.10) scale(0.9610,1)" font-size="30.5">AB+NA</text>
<text transform="translate(116.64,128.00) scale(0.9806,1)" font-size="30.5">NA+PI</text>
<text transform="translate(218.11,214.10) scale(1.0179,1)" font-size="30.5">RL</text>
<text transform="translate(244.67,296.40) scale(0.9280,1)" font-size="30.5">AB</text>
</g>
</svg>
</body></html>
